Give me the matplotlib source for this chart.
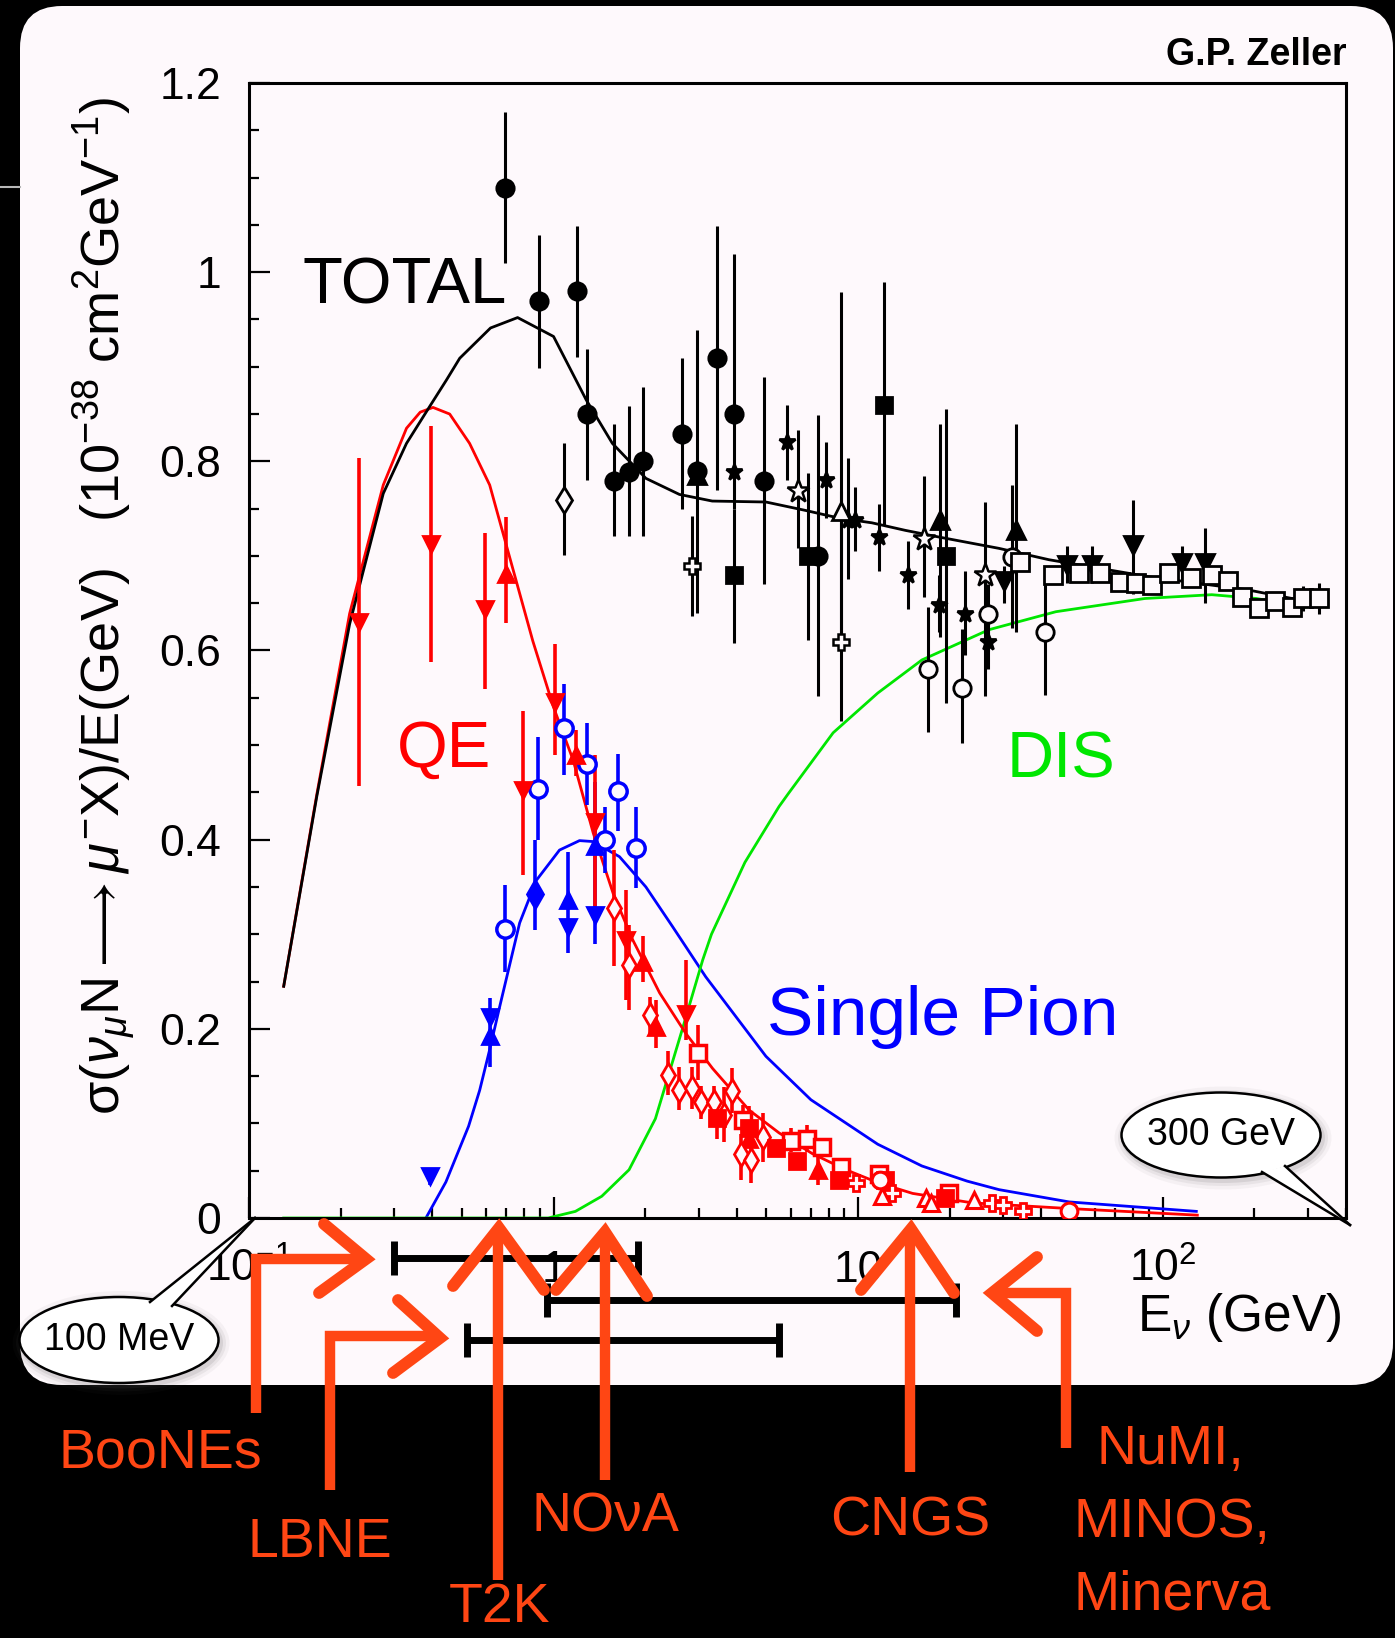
import numpy as np
import matplotlib
matplotlib.use('Agg')
import matplotlib.pyplot as plt
import matplotlib.transforms as mtransforms
from matplotlib.patches import FancyBboxPatch, Ellipse, Polygon
from matplotlib.ticker import (FixedLocator, FixedFormatter, LogLocator,
                               NullFormatter, MultipleLocator, FuncFormatter)

plt.rcParams['font.family'] = ['Liberation Sans', 'DejaVu Sans']
plt.rcParams['mathtext.fontset'] = 'custom'
plt.rcParams['mathtext.rm'] = 'Liberation Sans'
plt.rcParams['mathtext.it'] = 'Liberation Sans:italic'
plt.rcParams['mathtext.bf'] = 'Liberation Sans:bold'

# ---------------- theory curves (E in GeV, sigma/E in 1e-38 cm^2/GeV) ----------------
total_E = [0.13, 0.167, 0.214, 0.276, 0.329, 0.392, 0.445, 0.492, 0.621, 0.762, 1.0, 1.28,
           1.56, 2.01, 2.59, 3.32, 4.98, 6.74, 8.66, 11.1, 14.3, 18.4, 29.0, 42.3, 90, 191, 286]
total_s = [0.245, 0.446, 0.628, 0.766, 0.819, 0.858, 0.886, 0.909, 0.941, 0.952, 0.932, 0.865,
           0.819, 0.782, 0.765, 0.758, 0.757, 0.748, 0.740, 0.735, 0.727, 0.720, 0.708, 0.696,
           0.678, 0.664, 0.653]

qe_E = [0.13, 0.167, 0.214, 0.276, 0.329, 0.365, 0.402, 0.456, 0.53, 0.617, 0.717, 0.855, 1.0,
        1.16, 1.35, 1.57, 1.82, 2.23, 2.72, 3.33, 4.39, 5.5, 7.08, 9.12, 11.7, 15.1, 23.7, 49.3, 130]
qe_s = [0.245, 0.448, 0.639, 0.775, 0.835, 0.852, 0.857, 0.850, 0.819, 0.775, 0.699, 0.610, 0.540,
        0.484, 0.407, 0.343, 0.294, 0.238, 0.195, 0.158, 0.114, 0.090, 0.068, 0.051, 0.037, 0.026,
        0.016, 0.010, 0.003]

pion_E = [0.381, 0.443, 0.526, 0.572, 0.617, 0.665, 0.774, 0.878, 1.046, 1.217, 1.346,
          1.646, 2.01, 2.46, 3.16, 4.28, 4.98, 7.0, 11.6, 16.2, 22.8, 29.0, 49.3, 129]
pion_s = [0.0, 0.038, 0.097, 0.135, 0.178, 0.223, 0.312, 0.357, 0.389, 0.399, 0.398,
          0.382, 0.350, 0.308, 0.255, 0.199, 0.171, 0.125, 0.078, 0.055, 0.039, 0.030, 0.017, 0.007]

dis_E = [0.13, 0.96, 1.18, 1.44, 1.77, 2.16, 2.65, 3.09, 3.3, 4.25, 5.5, 5.91, 8.28, 11.6, 16.2,
         26.9, 44.6, 87.5, 145, 203, 294]
dis_s = [0.0, 0.0, 0.007, 0.023, 0.051, 0.105, 0.200, 0.273, 0.300, 0.376, 0.435, 0.449, 0.513,
         0.555, 0.590, 0.622, 0.641, 0.655, 0.659, 0.655, 0.646]

# ---------------- total cross section data ----------------
tot_fcirc_E = [0.695, 0.895, 1.19, 1.29, 1.585, 1.775, 1.97, 2.65, 2.95, 3.43, 3.92, 4.9, 7.36]
tot_fcirc_s = [1.089, 0.970, 0.980, 0.850, 0.779, 0.789, 0.800, 0.829, 0.790, 0.909, 0.850, 0.779, 0.700]
tot_fcirc_lo = [1.010, 0.899, 0.910, 0.780, 0.721, 0.721, 0.721, 0.750, 0.640, 0.770, 0.750, 0.670, 0.552]
tot_fcirc_hi = [1.169, 1.039, 1.049, 0.919, 0.839, 0.859, 0.879, 0.909, 0.939, 1.049, 1.019, 0.889, 0.849]

tot_fsq_E = [3.92, 6.87, 12.2, 19.5]
tot_fsq_s = [0.680, 0.700, 0.860, 0.700]
tot_fsq_lo = [0.608, 0.611, 0.733, 0.544]
tot_fsq_hi = [0.750, 0.788, 0.990, 0.855]

tot_ftup_E = [2.95, 18.6, 33.1]
tot_ftup_s = [0.786, 0.738, 0.727]
tot_ftup_lo = [0.786, 0.614, 0.620]
tot_ftup_hi = [0.786, 0.839, 0.840]

tot_ftdn_E = [30.1, 48.5, 58.4, 80.0, 115.7, 138.0]
tot_ftdn_s = [0.673, 0.690, 0.690, 0.712, 0.692, 0.692]
tot_ftdn_lo = [0.650, 0.671, 0.671, 0.660, 0.675, 0.650]
tot_ftdn_hi = [0.689, 0.710, 0.710, 0.759, 0.710, 0.729]

tot_ocross_E = [2.85, 8.8]
tot_ocross_s = [0.689, 0.609]
tot_ocross_lo = [0.637, 0.525]
tot_ocross_hi = [0.742, 0.769]

tot_star_E = [3.92, 5.86, 7.83, 9.29, 9.8, 11.7, 14.6, 18.4, 22.4, 26.7]
tot_star_s = [0.789, 0.820, 0.780, 0.738, 0.738, 0.720, 0.680, 0.648, 0.639, 0.609]
tot_star_lo = [0.789, 0.780, 0.740, 0.676, 0.705, 0.684, 0.644, 0.620, 0.595, 0.580]
tot_star_hi = [0.789, 0.860, 0.820, 0.804, 0.773, 0.755, 0.716, 0.680, 0.684, 0.640]

tot_ostar_E = [6.37, 16.5, 26.2]
tot_ostar_s = [0.769, 0.718, 0.680]
tot_ostar_lo = [0.708, 0.657, 0.552]
tot_ostar_hi = [0.833, 0.784, 0.757]

tot_otri_E = [8.82]
tot_otri_s = [0.748]
tot_otri_lo = [0.600]
tot_otri_hi = [0.979]

tot_odiam_E = [1.086]
tot_odiam_s = [0.759]
tot_odiam_lo = [0.701]
tot_odiam_hi = [0.819]

tot_ocirc_E = [17.0, 21.9, 26.7, 32.1, 41.2]
tot_ocirc_s = [0.580, 0.560, 0.639, 0.699, 0.620]
tot_ocirc_lo = [0.514, 0.502, 0.600, 0.624, 0.553]
tot_ocirc_hi = [0.646, 0.623, 0.670, 0.775, 0.682]

tot_osq_E = [34.1, 43.5, 53.0, 62.5, 72.6, 82, 92, 104.6, 124, 145, 164, 182, 207, 234, 266, 290, 325]
tot_osq_s = [0.694, 0.680, 0.682, 0.682, 0.672, 0.671, 0.669, 0.682, 0.677, 0.680, 0.673, 0.657,
             0.645, 0.652, 0.646, 0.655, 0.655]
tot_osq_lo = [0.694, 0.680, 0.682, 0.682, 0.672, 0.671, 0.669, 0.682, 0.677, 0.680, 0.673, 0.657,
              0.645, 0.652, 0.646, 0.642, 0.639]
tot_osq_hi = [0.694, 0.680, 0.682, 0.682, 0.672, 0.671, 0.669, 0.682, 0.677, 0.680, 0.673, 0.657,
              0.645, 0.652, 0.646, 0.668, 0.671]

# ---------------- single pion data ----------------
pion_ocirc_E = [0.691, 0.888, 1.086, 1.285, 1.48, 1.625, 1.867]
pion_ocirc_s = [0.306, 0.454, 0.518, 0.480, 0.400, 0.451, 0.391]
pion_ocirc_lo = [0.260, 0.400, 0.468, 0.437, 0.365, 0.409, 0.349]
pion_ocirc_hi = [0.352, 0.509, 0.565, 0.523, 0.435, 0.491, 0.435]

pion_fdiam_E = [0.867]
pion_fdiam_s = [0.343]
pion_fdiam_lo = [0.305]
pion_fdiam_hi = [0.400]

pion_tdn_E = [0.394, 0.617, 1.114, 1.363]
pion_tdn_s = [0.044, 0.213, 0.308, 0.320]
pion_tdn_lo = [0.035, 0.160, 0.280, 0.290]
pion_tdn_hi = [0.050, 0.233, 0.387, 0.461]

pion_tup_E = [0.617, 1.114, 1.363]
pion_tup_s = [0.192, 0.336, 0.393]

# ---------------- quasi-elastic data ----------------
qe_tdn_E = [0.230, 0.397, 0.597, 0.793, 1.008, 1.363, 1.73, 2.72]
qe_tdn_s = [0.630, 0.713, 0.644, 0.452, 0.546, 0.419, 0.294, 0.216]
qe_tdn_lo = [0.457, 0.588, 0.559, 0.363, 0.490, 0.330, 0.231, 0.188]
qe_tdn_hi = [0.804, 0.837, 0.724, 0.536, 0.607, 0.490, 0.347, 0.273]

qe_tup_E = [0.697, 1.187, 1.96, 2.17, 4.39, 7.36]
qe_tup_s = [0.681, 0.490, 0.271, 0.202, 0.083, 0.051]
qe_tup_lo = [0.629, 0.467, 0.250, 0.180, 0.083, 0.035]
qe_tup_hi = [0.741, 0.516, 0.298, 0.230, 0.083, 0.065]

qe_odiam_E = [1.585, 1.766, 2.07, 2.37, 2.58, 2.85, 3.05, 3.37, 3.64, 3.86, 4.12, 4.45, 4.88]
qe_odiam_s = [0.328, 0.268, 0.215, 0.151, 0.135, 0.137, 0.123, 0.123, 0.109, 0.134, 0.068, 0.061, 0.086]
qe_odiam_lo = [0.266, 0.220, 0.193, 0.130, 0.114, 0.115, 0.105, 0.105, 0.080, 0.111, 0.040, 0.037, 0.059]
qe_odiam_hi = [0.389, 0.310, 0.234, 0.177, 0.160, 0.160, 0.140, 0.140, 0.139, 0.159, 0.089, 0.082, 0.111]

qe_osq_E = [2.97, 4.18, 6.01, 6.82, 7.64, 8.77, 11.7, 19.9]
qe_osq_s = [0.174, 0.104, 0.081, 0.084, 0.075, 0.054, 0.047, 0.026]
qe_osq_lo = [0.146, 0.090, 0.070, 0.070, 0.075, 0.054, 0.047, 0.026]
qe_osq_hi = [0.204, 0.120, 0.095, 0.098, 0.075, 0.054, 0.047, 0.026]

qe_fsq_E = [3.43, 4.39, 5.37, 6.31, 8.66, 12.3, 19.3]
qe_fsq_s = [0.106, 0.095, 0.074, 0.060, 0.040, 0.040, 0.021]
qe_fsq_lo = [0.083, 0.076, 0.074, 0.060, 0.040, 0.040, 0.021]
qe_fsq_hi = [0.128, 0.118, 0.074, 0.060, 0.040, 0.040, 0.021]

qe_ocross_E = [9.82, 12.9, 27.5, 29.8, 34.7]
qe_ocross_s = [0.037, 0.026, 0.016, 0.014, 0.007]

qe_otri_E = [12.0, 16.7, 17.3, 24.0]
qe_otri_s = [0.023, 0.021, 0.016, 0.019]

qe_ocirc_E = [11.8, 49.3]
qe_ocirc_s = [0.040, 0.007]

# energy ranges of the beams (GeV)
range_lo = [0.30, 0.95, 0.52]
range_hi = [1.90, 21.0, 5.5]

xtick_vals = [0.1, 1, 10, 100]
xtick_text = [r'$10^{-1}$', '1', '10', r'$10^{2}$']

PANEL = '#fef9fc'
ORANGE = '#ff4614'
RED = '#ff0000'
BLUE = '#0000ff'
GREEN = '#00e600'

W, H = 1395, 1638
fig = plt.figure(figsize=(W / 100, H / 100), dpi=100, facecolor='black')

# background slide panel
bg = fig.add_axes([0, 0, 1, 1], zorder=0)
bg.set_xlim(0, W)
bg.set_ylim(H, 0)
bg.axis('off')
bg.add_patch(FancyBboxPatch((20, 6), 1373, 1379, boxstyle='round,pad=0,rounding_size=42',
                            fc=PANEL, ec='none'))
bg.plot([0, 20], [187, 187], color='#b8b8b8', lw=1.5)

# main plot
ax = fig.add_axes([249 / W, 1 - 1218 / H, 1097 / W, 1135 / H], zorder=1)
ax.patch.set_alpha(0)
ax.set_xscale('log')
ax.set_xlim(0.1, 400)
ax.set_ylim(0, 1.2)
for sp in ax.spines.values():
    sp.set_linewidth(2.2)

ax.plot(pion_E, pion_s, color=BLUE, lw=2.0, zorder=2)
ax.plot(dis_E, dis_s, color=GREEN, lw=2.0, zorder=2)
ax.plot(qe_E, qe_s, color=RED, lw=2.0, zorder=2)
ax.plot(total_E, total_s, color='black', lw=2.0, zorder=2)


def draw_pts(E, s, lo=None, hi=None, color='black', marker='o', ms=12, hollow=False,
             mew=2.0, elw=2.2):
    E = np.asarray(E, float)
    s = np.asarray(s, float)
    yerr = None
    if lo is not None:
        yerr = [s - np.asarray(lo, float), np.asarray(hi, float) - s]
    ax.errorbar(E, s, yerr=yerr, fmt=marker, ms=ms, color=color,
                mfc=PANEL if hollow else color, mec=color, mew=mew,
                elinewidth=elw, capsize=0, zorder=4)


# total
draw_pts(tot_fcirc_E, tot_fcirc_s, tot_fcirc_lo, tot_fcirc_hi, 'black', 'o', 12.5)
draw_pts(tot_fsq_E, tot_fsq_s, tot_fsq_lo, tot_fsq_hi, 'black', 's', 11)
draw_pts(tot_ftup_E, tot_ftup_s, tot_ftup_lo, tot_ftup_hi, 'black', '^', 13)
draw_pts(tot_ftdn_E, tot_ftdn_s, tot_ftdn_lo, tot_ftdn_hi, 'black', 'v', 13)
draw_pts(tot_ocross_E, tot_ocross_s, tot_ocross_lo, tot_ocross_hi, 'black', 'P', 12, hollow=True, mew=1.8)
draw_pts(tot_star_E, tot_star_s, tot_star_lo, tot_star_hi, 'black', '*', 12)
draw_pts(tot_ostar_E, tot_ostar_s, tot_ostar_lo, tot_ostar_hi, 'black', '*', 17, hollow=True, mew=1.8)
draw_pts(tot_otri_E, tot_otri_s, tot_otri_lo, tot_otri_hi, 'black', '^', 13, hollow=True)
draw_pts(tot_odiam_E, tot_odiam_s, tot_odiam_lo, tot_odiam_hi, 'black', 'd', 13, hollow=True)
draw_pts(tot_ocirc_E, tot_ocirc_s, tot_ocirc_lo, tot_ocirc_hi, 'black', 'o', 12.5, hollow=True)
draw_pts(tot_osq_E, tot_osq_s, tot_osq_lo, tot_osq_hi, 'black', 's', 12.5, hollow=True)

# single pion
draw_pts(pion_ocirc_E, pion_ocirc_s, pion_ocirc_lo, pion_ocirc_hi, BLUE, 'o', 12.5, hollow=True, mew=2.5, elw=2.6)
draw_pts(pion_fdiam_E, pion_fdiam_s, pion_fdiam_lo, pion_fdiam_hi, BLUE, 'd', 14, elw=2.6)
draw_pts(pion_tdn_E, pion_tdn_s, pion_tdn_lo, pion_tdn_hi, BLUE, 'v', 12, elw=2.6)
draw_pts(pion_tup_E, pion_tup_s, color=BLUE, marker='^', ms=12)

# quasi-elastic
draw_pts(qe_tdn_E, qe_tdn_s, qe_tdn_lo, qe_tdn_hi, RED, 'v', 12, elw=2.6)
draw_pts(qe_tup_E, qe_tup_s, qe_tup_lo, qe_tup_hi, RED, '^', 12, elw=2.6)
draw_pts(qe_odiam_E, qe_odiam_s, qe_odiam_lo, qe_odiam_hi, RED, 'd', 12, hollow=True, elw=2.6)
draw_pts(qe_osq_E, qe_osq_s, qe_osq_lo, qe_osq_hi, RED, 's', 12, hollow=True, mew=2.5, elw=2.6)
draw_pts(qe_fsq_E, qe_fsq_s, qe_fsq_lo, qe_fsq_hi, RED, 's', 11, elw=2.6)
draw_pts(qe_ocross_E, qe_ocross_s, color=RED, marker='P', ms=12, hollow=True, mew=2.0)
draw_pts(qe_otri_E, qe_otri_s, color=RED, marker='^', ms=12, hollow=True, mew=2.2)
draw_pts(qe_ocirc_E, qe_ocirc_s, color=RED, marker='o', ms=12, hollow=True, mew=2.2)

# curve labels
ax.text(0.150, 0.967, 'TOTAL', fontsize=47, va='baseline', color='black')
ax.text(0.305, 0.477, 'QE', fontsize=47, va='baseline', color=RED)
ax.text(30.8, 0.466, 'DIS', fontsize=47, va='baseline', color=GREEN)
ax.text(5.03, 0.1935, 'Single Pion', fontsize=50, va='baseline', color=BLUE)

# ticks
ax.xaxis.set_major_locator(FixedLocator(xtick_vals))
ax.xaxis.set_major_formatter(FixedFormatter(xtick_text))
ax.xaxis.set_minor_locator(LogLocator(base=10, subs=np.arange(2, 10), numticks=30))
ax.xaxis.set_minor_formatter(NullFormatter())
ax.yaxis.set_major_locator(MultipleLocator(0.2))
ax.yaxis.set_minor_locator(MultipleLocator(0.05))
ax.yaxis.set_major_formatter(FuncFormatter(lambda v, p: '%g' % round(v, 2)))
ax.tick_params(which='both', direction='in', top=False, right=False, width=1.6, labelsize=32)
ax.tick_params(which='major', length=15)
ax.tick_params(which='minor', length=7)
ax.tick_params(axis='y', pad=20)
ax.tick_params(axis='x', pad=46)
for lbl in ax.get_xticklabels():
    lbl.set_verticalalignment('baseline')

ax.set_ylabel(r'$\mathrm{\sigma}(\nu_{\mu}\mathrm{N}\longrightarrow\mu^{-}\mathrm{X})/\mathrm{E(GeV)}'
              r'\ \ \ (\mathrm{10^{-38}\ cm^{2}GeV^{-1}})$',
              fontsize=39, ha='center', va='center')
ax.yaxis.set_label_coords(-0.132, 0.539)
ax.set_xlabel(r'E$_\nu$ (GeV)', fontsize=37, ha='center', va='center')
ax.xaxis.set_label_coords(0.903, -0.088)

# overlay: annotations of the slide
ov = fig.add_axes([0, 0, 1, 1], zorder=3)
ov.set_xlim(0, W)
ov.set_ylim(H, 0)
ov.axis('off')

ov.text(1347, 65, 'G.P. Zeller', ha='right', va='baseline', fontsize=27, fontweight='bold')

# beam energy ranges
trans = mtransforms.blended_transform_factory(ax.transData, ov.transData)
for lo, hi, y in zip(range_lo, range_hi, [1258, 1300, 1340]):
    ov.plot([lo, hi], [y, y], color='black', lw=5, transform=trans, clip_on=False, zorder=3,
            solid_capstyle='butt')
    for xe in (lo, hi):
        ov.plot([xe, xe], [y - 17, y + 17], color='black', lw=5, transform=trans,
                clip_on=False, zorder=3, solid_capstyle='butt')


def bubble(cx, cy, w, h, tail, text):
    for grow, a in [(18, 0.05), (11, 0.08), (5, 0.12)]:
        ov.add_patch(Ellipse((cx + 2, cy + 3), w + grow, h + grow, fc='#555555', ec='none',
                             alpha=a, zorder=5))
    ov.add_patch(Ellipse((cx, cy), w, h, fc='white', ec='black', lw=1.8, zorder=6))
    ov.add_patch(Polygon(tail, closed=True, fc='white', ec='none', zorder=7))
    ov.plot([tail[0][0], tail[1][0]], [tail[0][1], tail[1][1]], color='black', lw=1.8, zorder=8)
    ov.plot([tail[2][0], tail[1][0]], [tail[2][1], tail[1][1]], color='black', lw=1.8, zorder=8)
    ov.text(cx, cy, text, ha='center', va='center', fontsize=27, zorder=9)


bubble(119, 1340, 199, 86, [(150, 1302), (255, 1218), (172, 1306)], '100 MeV')
bubble(1221, 1135, 199, 85, [(1262, 1172), (1350, 1225), (1285, 1166)], '300 GeV')


# hand-drawn orange arrows
def arrow(path, head):
    ov.plot([p[0] for p in path], [p[1] for p in path], color=ORANGE, lw=7.5,
            solid_joinstyle='miter', solid_capstyle='butt', zorder=10)
    ov.plot([p[0] for p in head], [p[1] for p in head], color=ORANGE, lw=8.5,
            solid_joinstyle='miter', solid_capstyle='round', zorder=10)


arrow([(256, 1413), (256, 1259), (360, 1259)], [(324, 1224), (366, 1259), (319, 1293)])
arrow([(330, 1490), (330, 1336), (436, 1336)], [(398, 1300), (440, 1338), (393, 1373)])
arrow([(498, 1580), (498, 1232)], [(453, 1286), (499, 1228), (544, 1290)])
arrow([(605, 1480), (605, 1236)], [(556, 1290), (605, 1232), (647, 1296)])
arrow([(910, 1472), (910, 1234)], [(861, 1290), (911, 1229), (954, 1293)])
arrow([(1066, 1448), (1066, 1293), (996, 1293)], [(1037, 1257), (992, 1293), (1037, 1331)])

lab = dict(color=ORANGE, fontsize=40, ha='center', va='center', zorder=10)
ov.text(160, 1454, 'BooNEs', **lab)
ov.text(320, 1543, 'LBNE', **lab)
ov.text(500, 1608, 'T2K', **lab)
ov.text(605, 1518, 'NO\u03bdA', **lab)
ov.text(910, 1522, 'CNGS', **lab)
ov.text(1170, 1450, 'NuMI,', **lab)
ov.text(1172, 1523, 'MINOS,', **lab)
ov.text(1172, 1595, 'Minerva', **lab)

fig.savefig('out.png', dpi=100, facecolor='black')
